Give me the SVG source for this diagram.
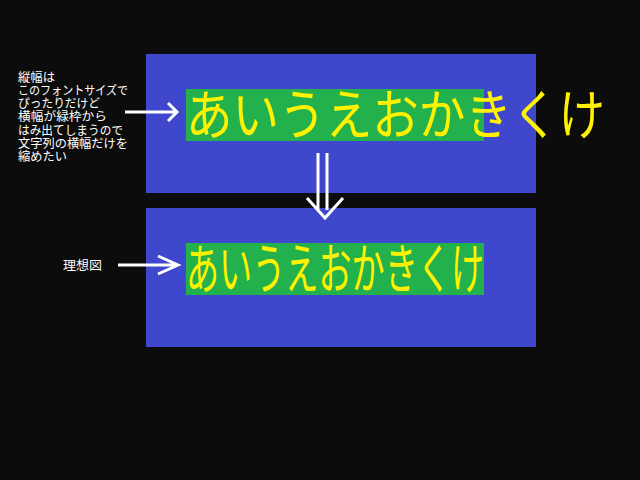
<svg xmlns="http://www.w3.org/2000/svg" width="640" height="480" viewBox="0 0 640 480">
<style>
.panel{fill:#3f48cc}
.box{fill:#22b14c}
.big{font-family:"Noto Sans CJK JP","Noto Sans CJK SC",sans-serif;font-size:54px;fill:#fff200}
.note{font-family:"Noto Sans CJK JP","Noto Sans CJK SC",sans-serif;font-size:12.5px;fill:#ffffff}
.arr{fill:none;stroke:#ffffff;stroke-width:3}
</style>
<rect x="0" y="0" width="640" height="480" fill="#0c0c0c"/>
<g id="panel-top">
<rect class="panel" x="146" y="54" width="390" height="139"/>
<rect class="box" x="186" y="89" width="298" height="52"/>
</g>
<g id="panel-bottom">
<rect class="panel" x="146" y="208" width="390" height="139"/>
<rect class="box" x="186" y="243" width="298" height="52"/>
</g>
<g id="text-top">
<text class="big" x="186" y="135" textLength="419" lengthAdjust="spacingAndGlyphs">あいうえおかきくけ</text>
</g>
<g id="text-bottom">
<text class="big" x="186" y="289" textLength="298" lengthAdjust="spacingAndGlyphs">あいうえおかきくけ</text>
</g>
<g id="note">
<text class="note" x="18" y="81.5" textLength="37" lengthAdjust="spacingAndGlyphs">縦幅は</text>
<text class="note" x="18" y="94.8" textLength="110" lengthAdjust="spacingAndGlyphs">このフォントサイズで</text>
<text class="note" x="18" y="108.1" textLength="82" lengthAdjust="spacingAndGlyphs">ぴったりだけど</text>
<text class="note" x="18" y="121.4" textLength="89" lengthAdjust="spacingAndGlyphs">横幅が緑枠から</text>
<text class="note" x="18" y="134.7" textLength="105" lengthAdjust="spacingAndGlyphs">はみ出てしまうので</text>
<text class="note" x="18" y="148" textLength="110" lengthAdjust="spacingAndGlyphs">文字列の横幅だけを</text>
<text class="note" x="18" y="161.3" textLength="49" lengthAdjust="spacingAndGlyphs">縮めたい</text>
</g>
<g id="label-ideal">
<text class="note" x="63" y="270" textLength="39" lengthAdjust="spacingAndGlyphs">理想図</text>
</g>
<g id="connectors">
<path class="arr" d="M125 112 H177 M168 103 L177 112 L168 121"/>
<path class="arr" d="M118 265 H178 M158 256 L178 265 L158 274"/>
<path class="arr" d="M318 153 V210 M327 153 V210 M307 198 L325 218 L343 198"/>
</g>
</svg>
